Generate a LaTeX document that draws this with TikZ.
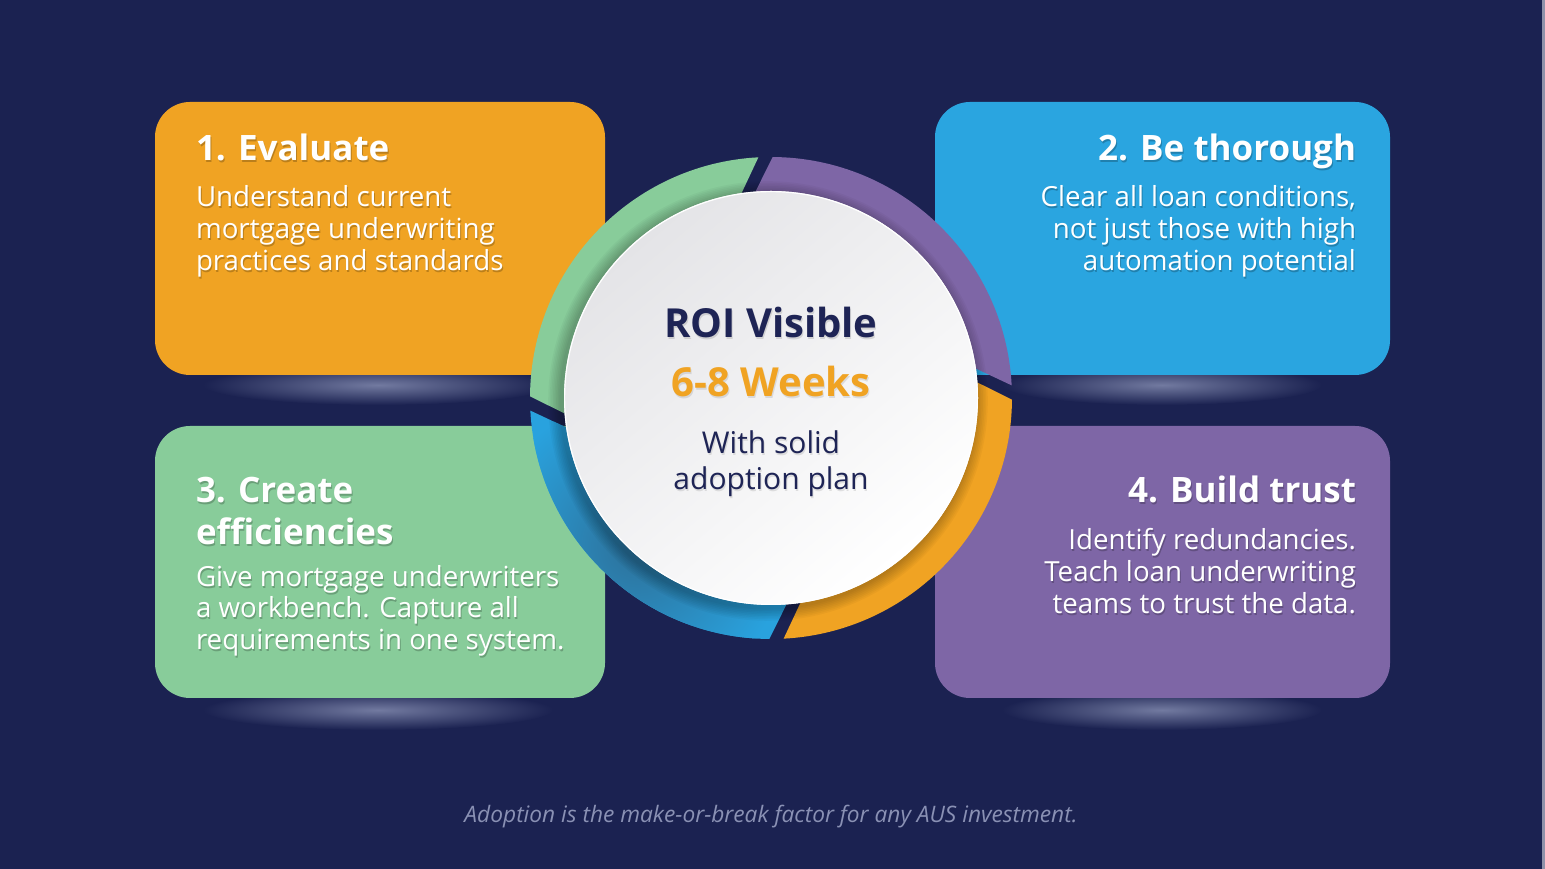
\documentclass[tikz,border=0pt]{standalone}
\usepackage{fontspec}
\setmainfont{Open Sans}
\definecolor{bg}{HTML}{1B2251}
\definecolor{orangeC}{HTML}{F0A323}
\definecolor{blueC}{HTML}{2AA5E0}
\definecolor{greenC}{HTML}{88CC9A}
\definecolor{purpleC}{HTML}{7E66A6}
\definecolor{ringblue}{HTML}{29A2DE}
\definecolor{ringdark}{HTML}{2D7099}
\definecolor{navy}{HTML}{1E2455}
\definecolor{glowC}{HTML}{727AA0}
\definecolor{footC}{HTML}{8A91B4}
\definecolor{edgeC}{HTML}{8E92AA}
\definecolor{discgray}{HTML}{E4E4E7}
\newcommand\shtext[6]{%
  \node[txt,#4,text=black,text opacity=#6,anchor=#3,xshift=1pt,yshift=-1.6pt] (#1s) at (#2) {#5};
  \node[txt,#4,anchor=#3] (#1) at (#2) {#5};}
\newcommand\ringseg[3]{%
  \pgfmathsetmacro\segA{#1+3}\pgfmathsetmacro\segB{#2-0.4}%
  \pgfmathsetmacro\segC{#2+5.5}\pgfmathsetmacro\segD{#1+9.5}%
  \path[#3] (\segA:241) arc[start angle=\segA, end angle=\segB, radius=241]
    -- (\segC:200) arc[start angle=\segC, end angle=\segD, radius=200] -- cycle;}
\begin{document}
\begin{tikzpicture}[x=1pt,y=1pt,
  txt/.style={inner sep=0pt,outer sep=0pt},
  ttl/.style={text=white,font=\bfseries\fontsize{35}{40}\selectfont},
  bdy/.style={text=white,font=\fontsize{27.7}{32}\selectfont},
  ctitle/.style={font=\bfseries\fontsize{40}{46}\selectfont},
  csub/.style={text=navy,font=\fontsize{30}{36}\selectfont},
  card/.style={rounded corners=35pt},
  glow/.style={inner color=glowC,outer color=bg}]
\useasboundingbox (0,0) rectangle (1545,869);
\fill[bg] (0,0) rectangle (1545,869);
\fill[edgeC] (1542,0) rectangle (1545,869);
% glows under the cards
\shade[glow] (378,484) ellipse [x radius=175, y radius=20];
\shade[glow] (1162,484) ellipse [x radius=160, y radius=20];
\shade[glow] (378,159) ellipse [x radius=175, y radius=20];
\shade[glow] (1162,159) ellipse [x radius=160, y radius=20];
% cards
\fill[orangeC,card] (155,494) rectangle (605,767);
\fill[blueC,card] (935,494) rectangle (1390,767);
\fill[greenC,card] (155,171) rectangle (605,443);
\fill[purpleC,card] (935,171) rectangle (1390,443);
% card 1
\shtext{t1}{196,708}{base west}{ttl}{1. Evaluate}{0.22}
\shtext{b1a}{196,662}{base west}{bdy}{Understand current}{0.22}
\shtext{b1b}{196,630}{base west}{bdy}{mortgage underwriting}{0.22}
\shtext{b1c}{196,598}{base west}{bdy}{practices and standards}{0.22}
% card 2
\shtext{t2}{1356,708}{base east}{ttl}{2. Be thorough}{0.22}
\shtext{b2a}{1356,662}{base east}{bdy}{Clear all loan conditions,}{0.22}
\shtext{b2b}{1356,630}{base east}{bdy}{not just those with high}{0.22}
\shtext{b2c}{1356,598}{base east}{bdy}{automation potential}{0.22}
% card 3
\shtext{t3a}{196,366}{base west}{ttl}{3. Create}{0.22}
\shtext{t3b}{196,324}{base west}{ttl}{efficiencies}{0.22}
\shtext{b3a}{196,282}{base west}{bdy}{Give mortgage underwriters}{0.22}
\shtext{b3b}{196,251}{base west}{bdy}{a workbench. Capture all}{0.22}
\shtext{b3c}{196,219}{base west}{bdy}{requirements in one system.}{0.22}
% card 4
\shtext{t4}{1356,366}{base east}{ttl}{4. Build trust}{0.22}
\shtext{b4a}{1356,319}{base east}{bdy}{Identify redundancies.}{0.22}
\shtext{b4b}{1356,287}{base east}{bdy}{Teach loan underwriting}{0.22}
\shtext{b4c}{1356,255}{base east}{bdy}{teams to trust the data.}{0.22}
% ring
\begin{scope}[shift={(771,471)}]
  \ringseg{0}{90}{fill=purpleC}
  \ringseg{90}{180}{fill=greenC}
  \ringseg{270}{360}{fill=orangeC}
  \begin{scope}
    \ringseg{180}{270}{clip}
    \fill[ringblue] (-260,-260) rectangle (260,260);
    \shade[inner color=ringdark,outer color=ringblue] (228:200) circle (150);
  \end{scope}
  % soft shadow of the disc
  \foreach \k in {1,...,8}{
    \fill[black,opacity=0.03] (-3,-3) circle (207+1.6*\k);
  }
  % disc
  \shade[top color=discgray,bottom color=white,shading angle=40] (0,0) circle (207);
  \draw[white,line width=1.2pt] (0,0) circle (206.4);
\end{scope}
% centre text
\shtext{c1}{771,531}{base}{ctitle,text=navy}{ROI Visible}{0.12}
\shtext{c2}{771,472}{base}{ctitle,text=orangeC}{6-8 Weeks}{0.10}
\shtext{c3}{771,415}{base}{csub}{With solid}{0.10}
\shtext{c4}{771,379}{base}{csub}{adoption plan}{0.10}
% footer
\node[txt,text=footC,font=\itshape\fontsize{22.7}{27}\selectfont,anchor=base] (foot) at (771,46)
  {Adoption is the make-or-break factor for any AUS investment.};
\end{tikzpicture}
\end{document}
